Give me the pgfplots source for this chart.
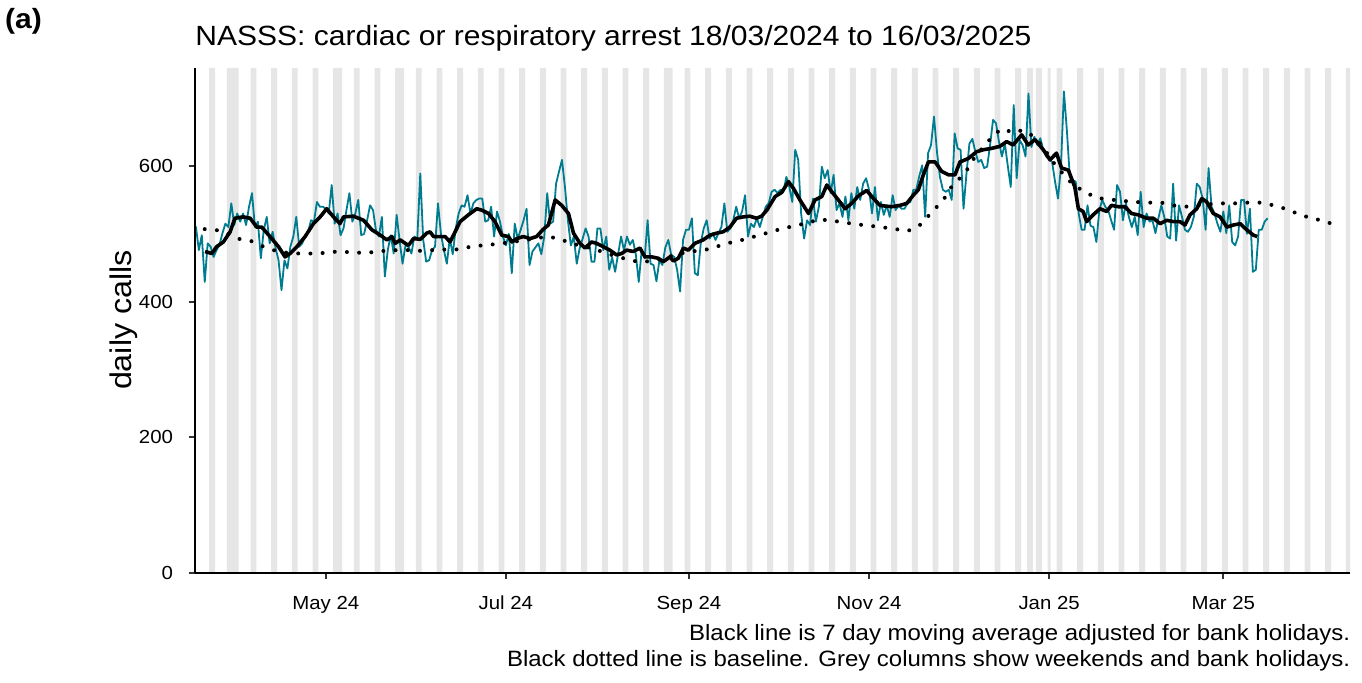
\documentclass[border=0pt]{standalone}
\usepackage{fontspec}
\setmainfont{Liberation Sans}[FakeStretch=1.08]
\usepackage{pgfplots}
\pgfplotsset{compat=1.18}
\usepackage{pgfplotstable}

\definecolor{nateal}{HTML}{007C91}
\definecolor{wkgrey}{HTML}{E6E6E6}
\definecolor{axgrey}{HTML}{333333}

% day 0 = 18/03/2024
\pgfplotstableread{
day calls
0 511
1 476
2 498
3 429
4 486
5 481
6 466
7 476
8 484
9 501
10 515
11 510
12 545
13 513
14 530
15 518
16 530
17 513
18 540
19 560
20 510
21 518
22 464
23 506
24 525
25 486
26 503
27 479
28 461
29 417
30 461
31 449
32 481
33 496
34 525
35 481
36 486
37 496
38 503
39 520
40 518
41 547
42 540
43 540
44 537
45 530
46 572
47 515
48 530
49 498
50 508
51 535
52 560
53 518
54 530
55 550
56 498
57 500
58 520
59 542
60 535
61 505
62 496
63 525
64 437
65 476
66 498
67 471
68 528
69 490
70 456
71 483
72 481
73 471
74 496
75 493
76 589
77 491
78 459
79 461
80 476
81 481
82 545
83 500
84 476
85 456
86 493
87 470
88 508
89 530
90 542
91 540
92 557
93 530
94 545
95 550
96 552
97 552
98 518
99 520
100 540
101 496
102 533
103 518
104 496
105 483
106 500
107 442
108 515
109 493
110 506
111 520
112 537
113 454
114 474
115 480
116 486
117 470
118 496
119 560
120 515
121 518
122 574
123 592
124 609
125 569
126 520
127 483
128 496
129 456
130 479
131 493
132 508
133 496
134 459
135 459
136 508
137 508
138 476
139 496
140 447
141 465
142 444
143 470
144 496
145 476
146 496
147 484
148 491
149 470
150 429
151 476
152 464
153 520
154 456
155 454
156 430
157 461
158 454
159 480
160 491
161 469
162 466
163 447
164 415
165 491
166 506
167 506
168 523
169 442
170 439
171 486
172 508
173 520
174 493
175 501
176 491
177 501
178 510
179 545
180 503
181 508
182 520
183 540
184 523
185 533
186 557
187 496
188 515
189 510
190 523
191 510
192 525
193 540
194 545
195 562
196 565
197 560
198 565
199 562
200 584
201 569
202 547
203 624
204 609
205 530
206 493
207 520
208 513
209 552
210 518
211 540
212 599
213 582
214 594
215 560
216 587
217 535
218 545
219 525
220 555
221 520
222 560
223 537
224 569
225 550
226 574
227 582
228 565
229 530
230 569
231 520
232 547
233 528
234 542
235 525
236 557
237 535
238 542
239 537
240 537
241 545
242 547
243 565
244 565
245 585
246 601
247 525
248 619
249 631
250 673
251 621
252 584
253 565
254 562
255 565
256 550
257 648
258 626
259 624
260 537
261 589
262 633
263 640
264 621
265 606
266 609
267 597
268 599
269 631
270 668
271 663
272 636
273 614
274 633
275 600
276 569
277 690
278 582
279 638
280 631
281 614
282 707
283 628
284 643
285 631
286 641
287 624
288 614
289 610
290 606
291 577
292 552
293 599
294 710
295 653
296 584
297 579
298 577
299 530
300 506
301 506
302 542
303 512
304 510
305 488
306 535
307 550
308 540
309 535
310 520
311 506
312 572
313 562
314 520
315 545
316 525
317 510
318 525
319 498
320 562
321 510
322 530
323 518
324 520
325 501
326 523
327 542
328 525
329 496
330 493
331 574
332 490
333 542
334 525
335 506
336 503
337 510
338 525
339 574
340 569
341 552
342 506
343 597
344 540
345 530
346 515
347 503
348 533
349 501
350 542
351 488
352 483
353 496
354 550
355 550
356 500
357 537
358 444
359 447
360 506
361 506
362 518
363 523
}\daily

% 7 day moving average
\pgfplotstableread{
day avg
3.1 474
5.4 471
7 481
9.3 488
11.6 503
13.2 523
16 525
18.4 523
20.6 510
22.3 510
25.1 496
28 481
30.2 466
31.9 471
34.2 481
37 496
39.8 515
42.1 525
44.3 537
46.6 525
48.8 515
50 525
53.4 526
56.8 520
59.6 506
62.5 498
64.7 491
66.4 496
67.5 486
69.2 491
72 483
73.7 493
76 492
78.2 501
79.3 503
80.5 496
82.7 496
84.4 496
86.1 488
87.8 503
89.5 518
92.3 528
95.1 537
96.8 535
99.1 530
101.3 518
103.6 498
105.9 496
107 488
108.7 493
110.9 496
113.2 493
115.4 496
117.7 507
119.4 513
121.7 550
123.9 542
126.2 530
127.9 501
130.1 486
131.8 479
134 488
135.7 486
138 481
140.2 476
142.5 469
144.2 471
145.9 476
148.1 474
150.4 479
152.1 466
154.4 466
156.6 464
158.3 459
160.6 466
161.7 460
163.4 464
165.1 479
166.8 476
169 486
171.8 491
174.1 498
176.4 501
178.6 503
180.9 510
183.1 523
185.4 525
187.6 526
189.9 523
191.6 526
193.4 535
196.2 555
198.4 561
200.7 577
202.4 567
204.6 550
207.5 530
209.7 550
212 555
213.7 572
215.4 562
217.6 550
219.9 537
222.1 545
224.4 556
227.2 564
229.5 552
231.7 542
233.4 541
235.7 540
238.5 542
240.8 545
243 557
244.7 565
246.4 587
248.1 606
250.4 606
252.6 592
254.9 587
257.1 587
258.8 606
261.6 611
264.4 621
266.7 624
269.5 626
272.3 629
274.6 636
276.8 631
279.7 646
281.9 631
284.2 639
287 624
289.3 609
291.5 619
293.2 597
295.5 594
297.7 569
298.9 537
300.5 533
301.7 518
303.9 528
306.2 537
308.5 533
310.1 542
312.4 540
314.7 540
316.9 530
319.2 528
322 523
324.3 523
326.6 515
328.8 520
331.1 518
333.3 518
335 513
336.7 528
339 537
340.7 552
342.4 547
344.6 530
346.9 525
349.2 510
351.4 513
353.7 515
355.9 506
358.2 498
359.5 496
}\avg

% baseline
\pgfplotstableread{
day base
3 507
8 505
11 500
15 492
19 489
23 481
27 475
31 472
35 471
40 471
44 472
48 474
52 473
56 472
60 473
64 475
68 476
72 476
76 475
80 476
85 477
89 477
93 481
97 483
102 485
107 488
112 491
116 494
119 496
123 493
127 486
132 481
136 476
140 470
144 465
148 460
152 459
156 461
160 466
164 471
168 474
173 477
177 482
181 487
186 492
190 497
194 502
198 507
202 511
207 516
211 521
215 520
219 517
224 514
228 512
232 510
237 507
241 504
245 512
248 526
251 540
254 555
256 570
259 583
262 599
264 615
267 629
270 645
273 655
277 649
280 653
284 643
287 628
289 614
291 602
294 587
297 573
301 562
305 553
309 551
313 549
318 547
322 546
327 546
331 542
335 540
340 542
344 544
348 545
352 545
356 546
361 546
365 542
369 537
373 530
377 524
382 519
386 513
}\base

\begin{document}
\begin{tikzpicture}
\begin{axis}[
  scale only axis,
  width=577.5pt, height=252.5pt,
  xmin=-0.3, xmax=390.9,
  ymin=0, ymax=744.5,
  axis lines*=left,
  axis line style={-, line width=1.4pt, black},
  axis on top,
  xtick={44,105,167,228,289,348},
  xticklabels={May 24,Jul 24,Sep 24,Nov 24,Jan 25,Mar 25},
  ytick={0,200,400,600},
  tick align=outside,
  major tick length=3pt,
  tick style={line width=1pt, color=axgrey},
  /pgf/number format/assume math mode=true,
  tick label style={font=\fontsize{9.45}{11}\selectfont, text=black, inner sep=0pt},
  xticklabel style={anchor=base, yshift=-15pt},
  yticklabel style={anchor=east, xshift=-7.8pt},
]
% weekends and bank holidays
\addplot[ybar, bar width=1, bar shift=0pt, fill=wkgrey, draw=none] coordinates {
(5,744.5) (6,744.5) (11,744.5) (12,744.5) (13,744.5) (14,744.5)
(19,744.5) (20,744.5) (26,744.5) (27,744.5) (33,744.5) (34,744.5)
(40,744.5) (41,744.5) (47,744.5) (48,744.5) (49,744.5) (54,744.5) (55,744.5)
(61,744.5) (62,744.5) (68,744.5) (69,744.5) (70,744.5) (75,744.5) (76,744.5)
(82,744.5) (83,744.5) (89,744.5) (90,744.5) (96,744.5) (97,744.5)
(103,744.5) (104,744.5) (110,744.5) (111,744.5) (117,744.5) (118,744.5)
(124,744.5) (125,744.5) (131,744.5) (132,744.5) (138,744.5) (139,744.5)
(145,744.5) (146,744.5) (152,744.5) (153,744.5) (159,744.5) (160,744.5) (161,744.5)
(166,744.5) (167,744.5) (173,744.5) (174,744.5) (180,744.5) (181,744.5)
(187,744.5) (188,744.5) (194,744.5) (195,744.5) (201,744.5) (202,744.5)
(208,744.5) (209,744.5) (215,744.5) (216,744.5) (222,744.5) (223,744.5)
(229,744.5) (230,744.5) (236,744.5) (237,744.5) (243,744.5) (244,744.5)
(250,744.5) (251,744.5) (257,744.5) (258,744.5) (264,744.5) (265,744.5)
(271,744.5) (272,744.5) (278,744.5) (279,744.5) (282,744.5) (283,744.5)
(285,744.5) (286,744.5) (289,744.5) (292,744.5) (293,744.5)
(299,744.5) (300,744.5) (306,744.5) (307,744.5) (313,744.5) (314,744.5)
(320,744.5) (321,744.5) (327,744.5) (328,744.5) (334,744.5) (335,744.5)
(341,744.5) (342,744.5) (348,744.5) (349,744.5) (355,744.5) (356,744.5)
(362,744.5) (363,744.5) (369,744.5) (370,744.5) (376,744.5) (377,744.5)
(383,744.5) (384,744.5) (390,744.5) (391,744.5)
};
\addplot[color=nateal, line width=0.9pt, line join=round] table[x=day, y=calls] {\daily};
\addplot[black, line width=2pt, line cap=round, dash pattern=on 0pt off 6.1pt] table[x=day, y=base] {\base};
\addplot[black, line width=1.8pt, line join=round] table[x=day, y=avg] {\avg};
\end{axis}
\node[anchor=base west, inner sep=0pt, font=\bfseries\fontsize{13.9}{16}\selectfont] at (-95.15pt,272.25pt) {(a)};
\node[anchor=base west, inner sep=0pt, font=\fontsize{13.9}{16}\selectfont] at (0pt,263.65pt) {NASSS: cardiac or respiratory arrest 18/03/2024 to 16/03/2025};
\node[rotate=90, anchor=base, inner sep=0pt, font=\fontsize{14.95}{17}\selectfont] at (-31.65pt,126.5pt) {daily calls};
\node[anchor=base east, inner sep=0pt, font=\fontsize{11.1}{13}\selectfont] at (577.8pt,-33.5pt) {Black line is 7 day moving average adjusted for bank holidays.};
\node[anchor=base east, inner sep=0pt, font=\fontsize{11.1}{13}\selectfont] at (577.8pt,-46.85pt) {Black dotted line is baseline. Grey columns show weekends and bank holidays.};
\pgfresetboundingbox
\path (-97.5pt,-54.5pt) rectangle (583.5pt,286.5pt);
\end{tikzpicture}
\end{document}
